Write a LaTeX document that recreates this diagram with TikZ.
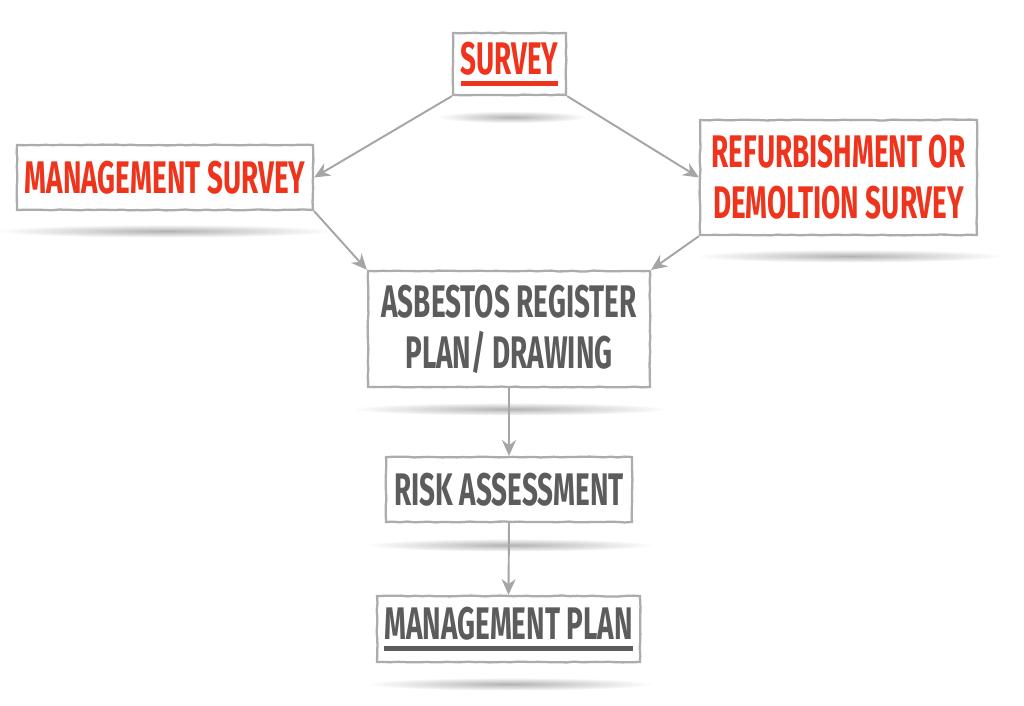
\documentclass[tikz,border=0pt]{standalone}
\usepackage{fontspec}
\setmainfont{Fira Sans}[FakeStretch=0.61]
\usepackage{tikz}
\usetikzlibrary{calc}
\usetikzlibrary{arrows.meta,shapes}
\usetikzlibrary{positioning,decorations.pathmorphing}
\definecolor{surveyred}{RGB}{238,52,28}
\definecolor{textgray}{RGB}{92,92,92}
\definecolor{framegray}{RGB}{172,172,172}
\definecolor{arrowgray}{RGB}{165,165,165}
\newcommand{\barul}[1]{\setbox0\hbox{#1}\vbox{\copy0\kern3pt\hrule height 2.6pt width \wd0}}

\begin{document}
\begin{tikzpicture}[x=0.02cm,y=-0.02cm,
    stepbox/.style={draw=framegray,line width=1.3pt,fill=white,inner sep=4pt,
      font=\fontsize{26}{29}\selectfont\bfseries,align=center,
      decorate,decoration={random steps,segment length=4pt,amplitude=0.25pt}},
    redbox/.style={stepbox,text=surveyred},
    graybox/.style={stepbox,text=textgray},
    link/.style={draw=arrowgray,line width=1.1pt,-{Stealth[length=9pt,width=8pt]}},
    shadowblob/.style={inner color=black!30,outer color=white}]
  \useasboundingbox (0,0) rectangle (1024,706);
  % soft shadows under the boxes
  \shade[shadowblob] (512,117) ellipse (1.5cm and 0.12cm);
  \shade[shadowblob] (165,231) ellipse (3.4cm and 0.13cm);
  \shade[shadowblob] (850,256) ellipse (3.1cm and 0.13cm);
  \shade[shadowblob] (510,409) ellipse (3.2cm and 0.13cm);
  \shade[shadowblob] (510,545) ellipse (2.9cm and 0.13cm);
  \shade[shadowblob] (510,684) ellipse (2.9cm and 0.13cm);
  % boxes
  \node[redbox,minimum width=2.26cm,minimum height=1.24cm] (survey) at (509.5,64) {\barul{SURVEY}};
  \node[redbox,minimum width=5.92cm,minimum height=1.3cm] (mgmt) at (165,177.5) {MANAGEMENT SURVEY};
  \node[redbox,minimum width=5.54cm,minimum height=2.3cm] (refurb) at (838.5,177.5) {REFURBISHMENT OR\\DEMOLTION SURVEY};
  \node[graybox,minimum width=5.64cm,minimum height=2.32cm] (register) at (509,329) {ASBESTOS REGISTER\\PLAN/ DRAWING};
  \node[graybox,minimum width=4.92cm,minimum height=1.3cm] (risk) at (509,489.5) {RISK ASSESSMENT};
  \node[graybox,minimum width=5.26cm,minimum height=1.32cm] (plan) at (508.5,629) {\barul{MANAGEMENT PLAN}};
  % connectors
  \draw[link] (survey.south west) -- (mgmt.east);
  \draw[link] (survey.south east) -- (refurb.west);
  \draw[link] (mgmt.south east) -- (register.north west);
  \draw[link] (refurb.south west) -- (register.north east);
  \draw[link] (register.south) -- (risk.north);
  \draw[link] (risk.south) -- (plan.north);
\end{tikzpicture}
\end{document}
